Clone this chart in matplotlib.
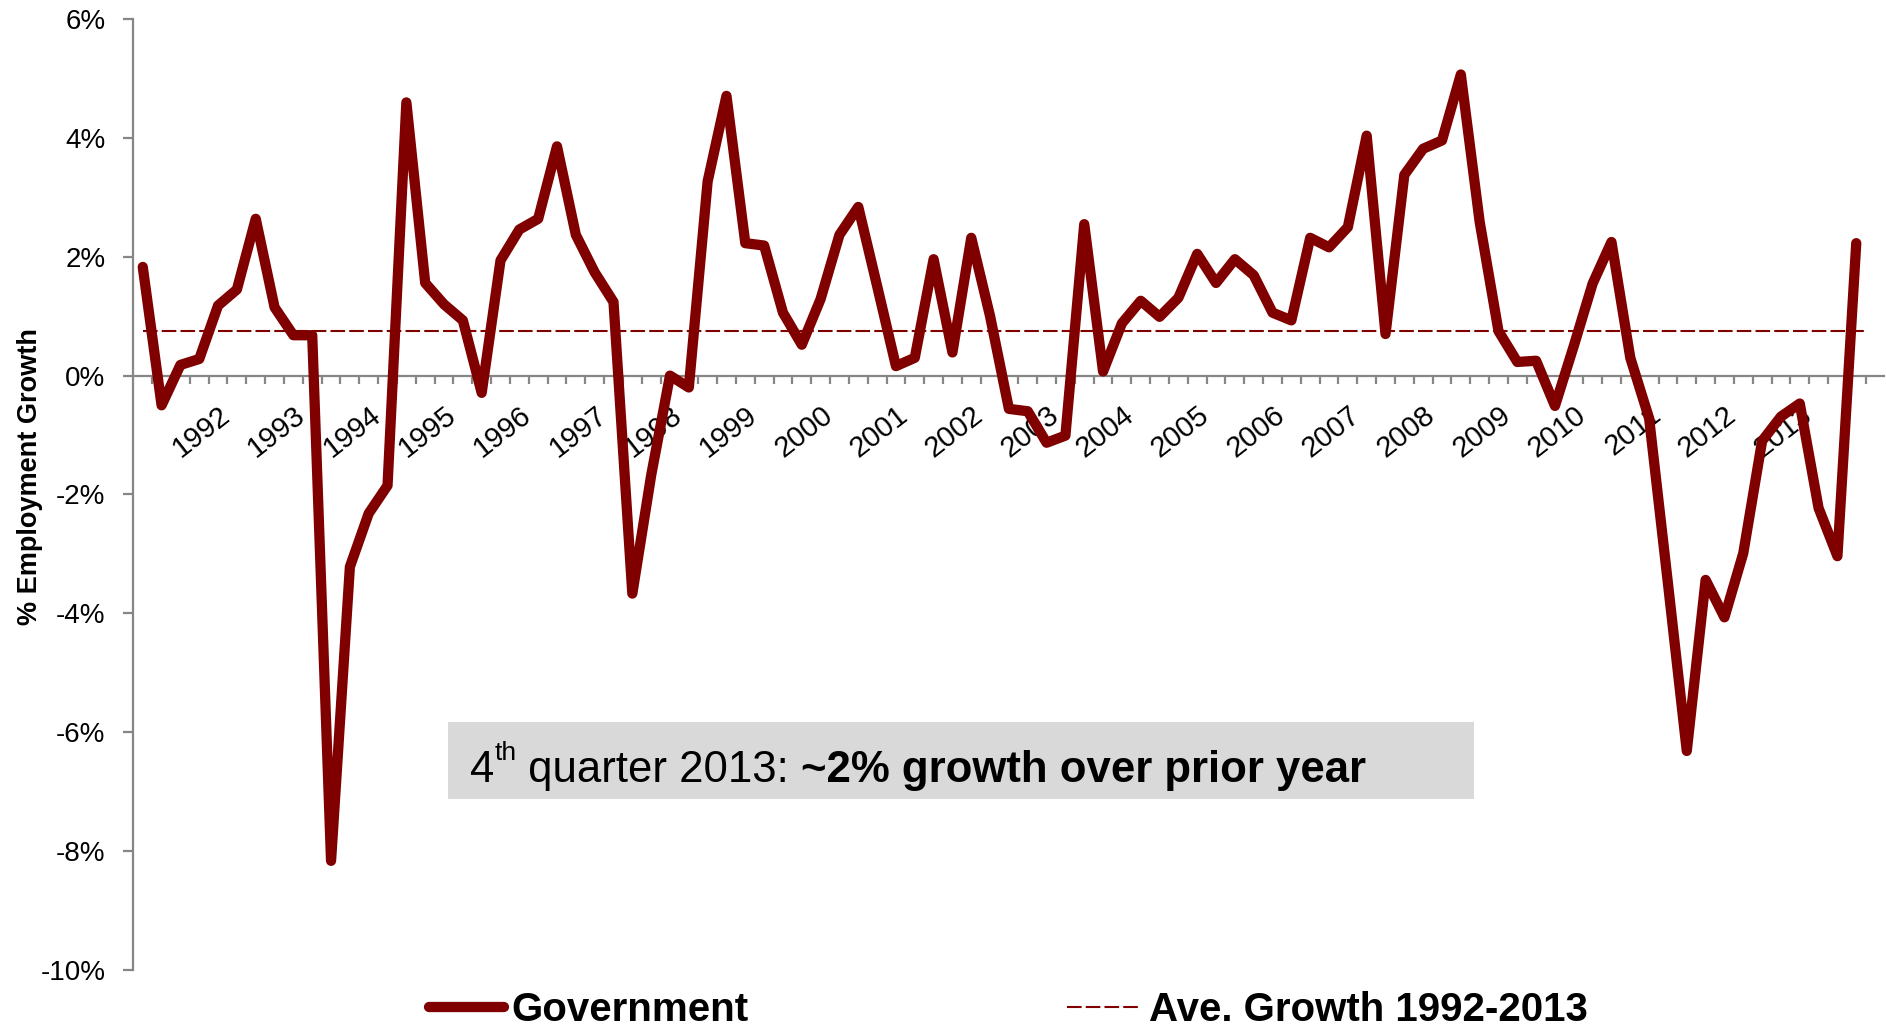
import numpy as np
import matplotlib
matplotlib.use('Agg')
import matplotlib.pyplot as plt
from matplotlib.patches import Rectangle

plt.rcParams['font.family'] = ['Liberation Sans', 'DejaVu Sans']

# quarterly year-over-year growth in government employment, 1991Q1 - 2013Q4 (%)
growth = [
    1.83, -0.50, 0.18, 0.28, 1.18, 1.45, 2.64, 1.15, 0.68, 0.68,
    -8.17, -3.22, -2.32, -1.85, 4.60, 1.56, 1.20, 0.93, -0.29, 1.94,
    2.46, 2.64, 3.86, 2.37, 1.74, 1.24, -3.67, -1.68, 0.00, -0.20,
    3.27, 4.71, 2.23, 2.19, 1.06, 0.52, 1.29, 2.37, 2.84, 1.51,
    0.16, 0.30, 1.96, 0.39, 2.32, 1.00, -0.56, -0.60, -1.13, -1.01,
    2.55, 0.07, 0.88, 1.26, 0.99, 1.31, 2.05, 1.56, 1.96, 1.69,
    1.06, 0.93, 2.32, 2.16, 2.50, 4.04, 0.70, 3.38, 3.82, 3.96,
    5.07, 2.59, 0.75, 0.23, 0.25, -0.51, 0.50, 1.55, 2.25, 0.30,
    -0.72, -3.50, -6.32, -3.44, -4.07, -2.99, -1.10, -0.69, -0.47, -2.23,
    -3.04, 2.23,
]
avg_growth = 0.75
years = [str(y) for y in range(1992, 2014)]
year_pos = [4 * (k + 1) for k in range(len(years))]   # first quarter of each year

red = '#800000'
grey = '#868686'

n = len(growth)
x = np.arange(n)

fig = plt.figure(figsize=(18.86, 10.30), dpi=100)
ax = fig.add_axes([0.0707, 0.0587, 0.9285, 0.9226])

gov, = ax.plot(x, growth, color=red, lw=7.4, solid_joinstyle='round',
               solid_capstyle='round', label='Government', zorder=3)
avg, = ax.plot([0, n - 0.4], [avg_growth, avg_growth], color=red, lw=1.5,
               dashes=(7, 2), label='Ave. Growth 1992-2013', zorder=2)

ax.set_xlim(-0.5, n + 0.5)
ax.set_ylim(-10, 6)

for s in ['top', 'right']:
    ax.spines[s].set_visible(False)
ax.spines['left'].set_color(grey)
ax.spines['left'].set_linewidth(1.6)
ax.spines['bottom'].set_position(('data', 0))
ax.spines['bottom'].set_color(grey)
ax.spines['bottom'].set_linewidth(1.6)

ax.set_yticks(np.arange(-10, 7, 2))
ax.set_yticklabels(['%d%%' % v for v in range(-10, 7, 2)])
ax.tick_params(axis='y', direction='out', length=7, width=1.6, color=grey,
               pad=13, labelsize=20)

ax.set_xticks(year_pos)
ax.set_xticklabels(years, rotation=38, ha='right', rotation_mode='anchor')
ax.set_xticks(np.arange(0.5, n + 0.5, 1), minor=True)
ax.tick_params(axis='x', which='major', length=0, pad=18, labelsize=21)
ax.tick_params(axis='x', which='minor', direction='out', length=5.5,
               width=1.6, color=grey)

fig.text(0.0159, 0.537, '% Employment Growth', rotation=90, ha='center',
         va='center', fontsize=19.5, fontweight='bold')

# callout box
ax.add_patch(Rectangle((0.1796, 0.1794), 0.5861, 0.0810, transform=ax.transAxes,
                       facecolor='#d9d9d9', edgecolor='none', zorder=1))
t1 = ax.text(0.1922, 0.1975, '4', transform=ax.transAxes, fontsize=31.5,
             va='baseline', ha='left', zorder=4)
t2 = ax.annotate('th', xy=(1, 0.62), xycoords=t1, fontsize=19,
                 va='bottom', ha='left', zorder=4)
t3 = ax.annotate(' quarter 2013: ', xy=(1, 0), xycoords=(t2, t1),
                 fontsize=31.5, va='bottom', ha='left', zorder=4)
ax.annotate('~2% growth over prior year', xy=(1, 0), xycoords=t3,
            fontsize=31.5, fontweight='bold', va='bottom', ha='left', zorder=4)

fig.legend(handles=[gov, avg], loc='center left',
           bbox_to_anchor=(429 / 1886, 1 - 1010 / 1030), ncol=2,
           frameon=False, borderpad=0, borderaxespad=0, handlelength=1.85,
           handletextpad=0.2, columnspacing=7.9,
           prop={'size': 29, 'weight': 'bold'})

plt.savefig('out.png', dpi=100)
